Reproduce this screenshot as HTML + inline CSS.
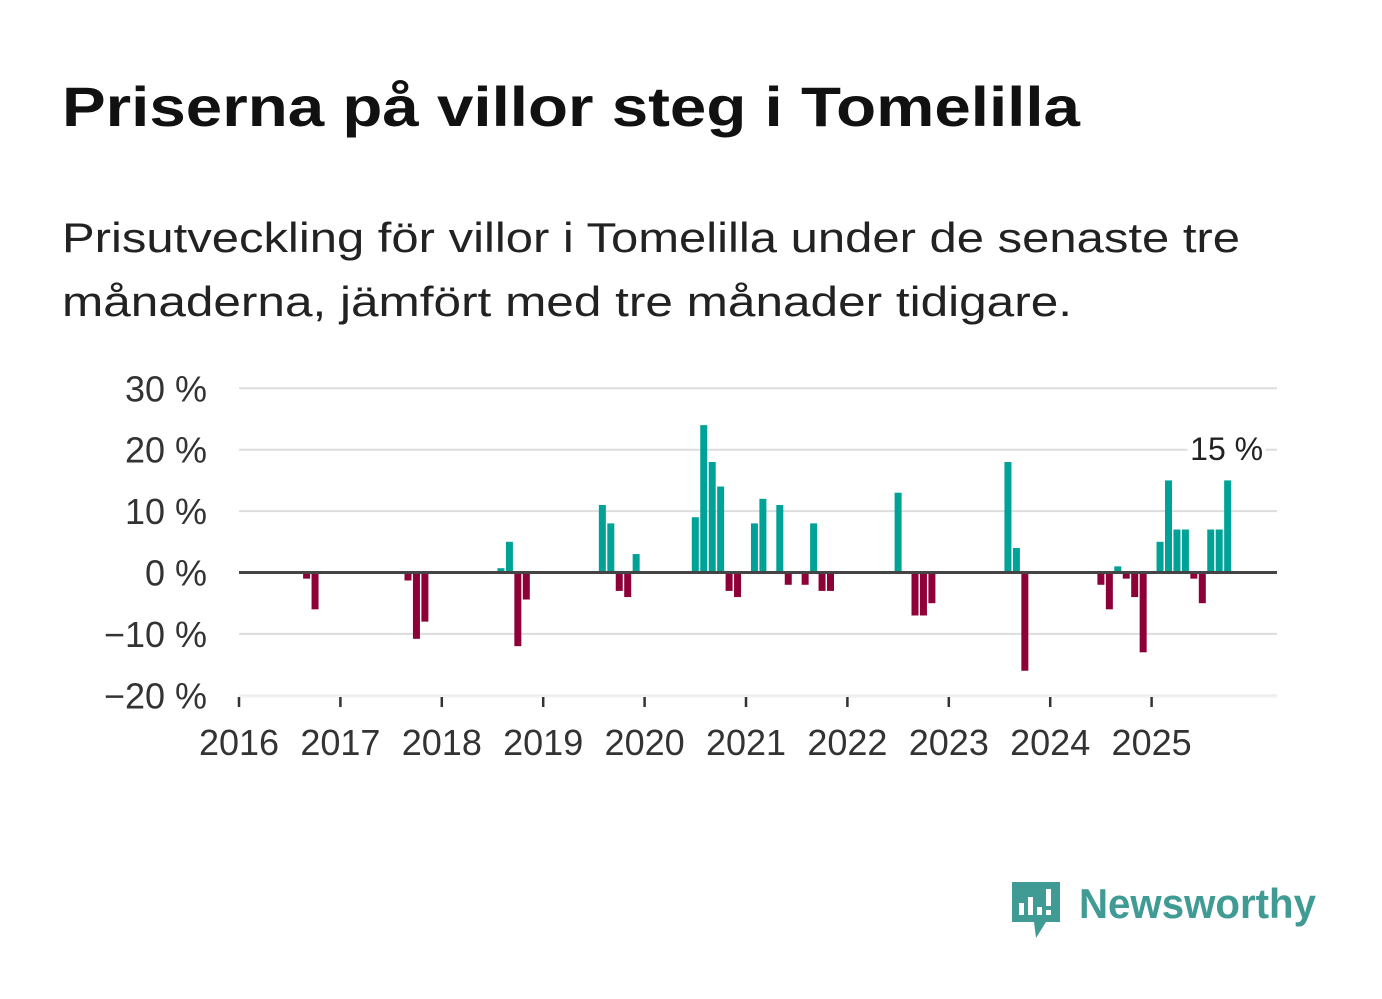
<!DOCTYPE html>
<html><head><meta charset="utf-8"><style>
html,body{margin:0;padding:0;background:#fff;}
svg{display:block;font-family:"Liberation Sans",sans-serif;}
</style></head><body>
<svg id="chart" width="1382" height="999" viewBox="0 0 1382 999">
<text x="62" y="126" font-size="56" font-weight="bold" fill="#111" textLength="1018" lengthAdjust="spacingAndGlyphs">Priserna på villor steg i Tomelilla</text>
<text x="62" y="252" font-size="42" fill="#222" textLength="1178" lengthAdjust="spacingAndGlyphs">Prisutveckling för villor i Tomelilla under de senaste tre</text>
<text x="62" y="316" font-size="42" fill="#222" textLength="1010" lengthAdjust="spacingAndGlyphs">månaderna, jämfört med tre månader tidigare.</text>
<g id="grid"></g>
<g id="bars"></g>
<g id="axes"></g>
<g>
<path d="M1012 882 h48 v40 h-14 l-10 16 l-2 -16 h-22 z" fill="#3f9b93"/>
<rect x="1019" y="903" width="5" height="12" fill="#fff"/>
<rect x="1028" y="897" width="5" height="18" fill="#fff"/>
<rect x="1037" y="907" width="5" height="8" fill="#fff"/>
<rect x="1046" y="889" width="5" height="17" fill="#fff"/>
<rect x="1046" y="910" width="5" height="5" fill="#fff"/>
<text x="1079" y="918" font-size="42" font-weight="bold" fill="#3f9b93" textLength="237" lengthAdjust="spacingAndGlyphs">Newsworthy</text>
</g>
</svg>
<script>
const months = [8,9,20,21,22,31,32,33,34,43,44,45,46,47,54,55,56,57,58,59,61,62,64,65,67,68,69,70,78,80,81,82,91,92,93,102,103,104,105,106,107,109,110,111,112,113,114,115,116,117];
const values = [-1,-6,-1.3,-10.8,-8,0.7,5,-12,-4.4,11,8,-3,-4,3,9,24,18,14,-3,-4,8,12,11,-2,-2,8,-3,-3,13,-7,-7,-5,18,4,-16,-2,-6,1,-1,-4,-13,5,15,7,7,-1,-5,7,7,15];
const yTicks = [30,20,10,0,-10,-20];
const yearLabels = ["2016","2017","2018","2019","2020","2021","2022","2023","2024","2025"];
const lastLabel = "15 %";

const NS="http://www.w3.org/2000/svg";
const x0=239, monthW=8.45, xEnd=1277;
const y = v => 572.5 - v*6.14;
const xm = m => x0 + m*monthW;
function mk(tag, attrs, parent){const e=document.createElementNS(NS,tag);for(const k in attrs)e.setAttribute(k,attrs[k]);parent.appendChild(e);return e;}
const grid=document.getElementById('grid'), bars=document.getElementById('bars'), axes=document.getElementById('axes');
yTicks.forEach(t=>{
  if(t!==0){const l=mk('line',{x1:x0,x2:xEnd,y1:y(t),y2:y(t),stroke:t===-20?'#eee':'#ddd','stroke-width':2},grid);
  
  }
  const tx=mk('text',{x:207,y:y(t)+13,'font-size':36,'text-anchor':'end',fill:'#333'},axes);
  tx.textContent=(t<0?'\u2212'+(-t):t)+' %';
  
  
});
months.forEach((m,i)=>{
  const v=values[i];
  const r=mk('rect',{x:xm(m)-3.5,width:7,y:Math.min(y(v),y(0)),height:Math.abs(y(v)-y(0)),fill:v>=0?'#00a298':'#8e0038'},bars);
  
  
});
const zl=mk('line',{x1:x0,x2:xEnd,y1:y(0),y2:y(0),stroke:'#444','stroke-width':3},axes);


const bl=mk('line',{x1:x0,x2:xEnd,y1:697,y2:697,stroke:'#eee','stroke-width':1},axes);


yearLabels.forEach((yr,i)=>{
  const x=x0+i*12*monthW;
  const tk=mk('line',{x1:x,x2:x,y1:697,y2:707,stroke:'#333','stroke-width':2.5},axes);
  
  
  const t=mk('text',{x:x,y:755,'font-size':36,'text-anchor':'middle',fill:'#333'},axes);
  t.textContent=yr;
  
  
});
const lm=months[months.length-1];
const bg=mk('rect',{x:xm(lm)-40,y:432,width:78,height:34,fill:'#fff'},axes);


const lt=mk('text',{x:xm(lm)-1,y:460,'font-size':32,'text-anchor':'middle',fill:'#222'},axes);
lt.textContent=lastLabel;


</script>
</body></html>
